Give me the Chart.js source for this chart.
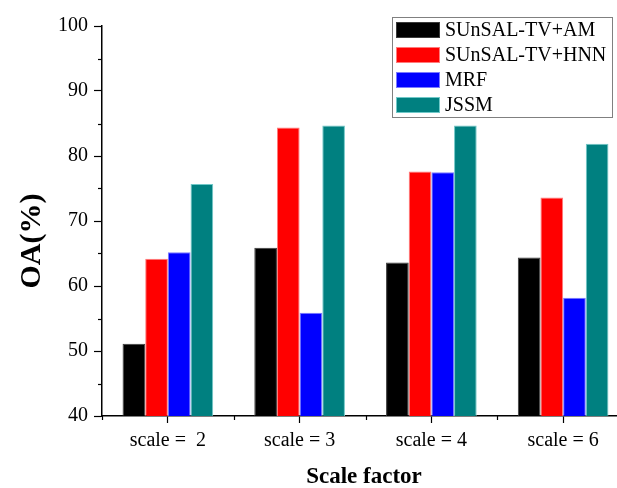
<!DOCTYPE html>
<html>
<head>
<meta charset="utf-8">
<script src="https://cdn.jsdelivr.net/npm/chart.js@4/dist/chart.umd.min.js"></script>
<style>
  html, body { margin:0; padding:0; background:#fff; overflow:hidden; }
  #wrap { width:640px; height:488px; }
</style>
</head>
<body>
<div id="wrap"><canvas id="chart" width="640" height="488"></canvas></div>
<script>
const categories = ["scale =  2", "scale = 3", "scale = 4", "scale = 6"];
const seriesNames = ["SUnSAL-TV+AM", "SUnSAL-TV+HNN", "MRF", "JSSM"];
const amValues   = [51.1, 65.9, 63.6, 64.4];
const hnnValues  = [64.2, 84.4, 77.6, 73.6];
const mrfValues  = [65.2, 55.9, 77.5, 58.2];
const jssmValues = [75.7, 84.7, 84.7, 81.9];
const yTicks = [40, 50, 60, 70, 80, 90, 100];
const yMinorTicks = [45, 55, 65, 75, 85, 95];

const fills   = ["#000000", "#ff0000", "#0000ff", "#008080"];
const borders = ["#3a3a3a", "#ff7a7a", "#7a7aff", "#70c8c8"];
const serif = "'Liberation Serif', 'DejaVu Serif', serif";

const seriesValues = [amValues, hnnValues, mrfValues, jssmValues];
const datasets = seriesNames.map((name, i) => ({
    label: name,
    data: seriesValues[i],
    backgroundColor: fills[i],
    borderColor: borders[i],
    borderWidth: {left:1, right:1, top:1, bottom:0},
    borderSkipped: false,
    categoryPercentage: 0.688,
    barPercentage: 1.0
}));

// minor ticks, axis titles and the framed legend
const extras = {
    id: "extras",
    afterDraw(chart){
        const ctx = chart.ctx;
        const y = chart.scales.y;
        const area = chart.chartArea;
        ctx.save();
        ctx.strokeStyle = "#000";
        ctx.lineWidth = 1.2;
        // y minor ticks
        yMinorTicks.forEach(v=>{
            const py = Math.round(y.getPixelForValue(v)) + 0.5;
            ctx.beginPath();
            ctx.moveTo(area.left - 4, py);
            ctx.lineTo(area.left, py);
            ctx.stroke();
        });
        // x minor ticks at category boundaries
        const step = (area.right - area.left) / categories.length;
        for(let i=0; i<=categories.length; i++){
            const px = Math.round(area.left + i*step) + 0.5;
            ctx.beginPath();
            ctx.moveTo(px, area.bottom);
            ctx.lineTo(px, area.bottom + 4);
            ctx.stroke();
        }
        // axis titles
        ctx.fillStyle = "#000";
        ctx.textAlign = "center";
        ctx.textBaseline = "middle";
        ctx.font = "bold 23px " + serif;
        ctx.fillText("Scale factor", 364, 477);
        ctx.save();
        ctx.translate(32, 241);
        ctx.rotate(-Math.PI/2);
        ctx.font = "bold 30px " + serif;
        ctx.fillText("OA(%)", 0, 0);
        ctx.restore();
        // legend
        ctx.lineWidth = 1;
        ctx.strokeStyle = "#808080";
        ctx.strokeRect(392.5, 17.5, 220, 100);
        ctx.font = "20px " + serif;
        ctx.textAlign = "left";
        chart.data.datasets.forEach((ds, i)=>{
            const top = 22 + i*25;
            ctx.fillStyle = ds.backgroundColor;
            ctx.fillRect(396, top, 44, 16);
            ctx.strokeStyle = ds.borderColor;
            ctx.strokeRect(396.5, top + 0.5, 43, 15);
            ctx.fillStyle = "#000";
            ctx.fillText(ds.label, 445, top + 9);
        });
        ctx.restore();
    }
};

new Chart(document.getElementById("chart"), {
    type: "bar",
    data: { labels: categories, datasets: datasets },
    options: {
        responsive: false,
        animation: false,
        layout: { padding: { top: 26, right: 11, left: 0, bottom: 0 } },
        plugins: { legend: { display: false }, tooltip: { enabled: false } },
        scales: {
            x: {
                grid: { display: true, drawOnChartArea: false, offset: false, tickLength: 7, tickColor: "#000", tickWidth: 1.2 },
                border: { display: true, color: "#000", width: 1.5 },
                ticks: { color: "#000", font: { family: serif, size: 20 }, padding: 6, maxRotation: 0, autoSkip: false },
                afterFit(s){ s.height = 72; }
            },
            y: {
                min: 40, max: 100,
                afterBuildTicks(s){ s.ticks = yTicks.map(v=>({value:v})); },
                grid: { display: true, drawOnChartArea: false, tickLength: 8, tickColor: "#000", tickWidth: 1.2 },
                border: { display: true, color: "#000", width: 1.5 },
                ticks: { color: "#000", font: { family: serif, size: 20 }, padding: 6 },
                afterFit(s){ s.width = 102; }
            }
        }
    },
    plugins: [extras]
});
</script>
</body>
</html>
